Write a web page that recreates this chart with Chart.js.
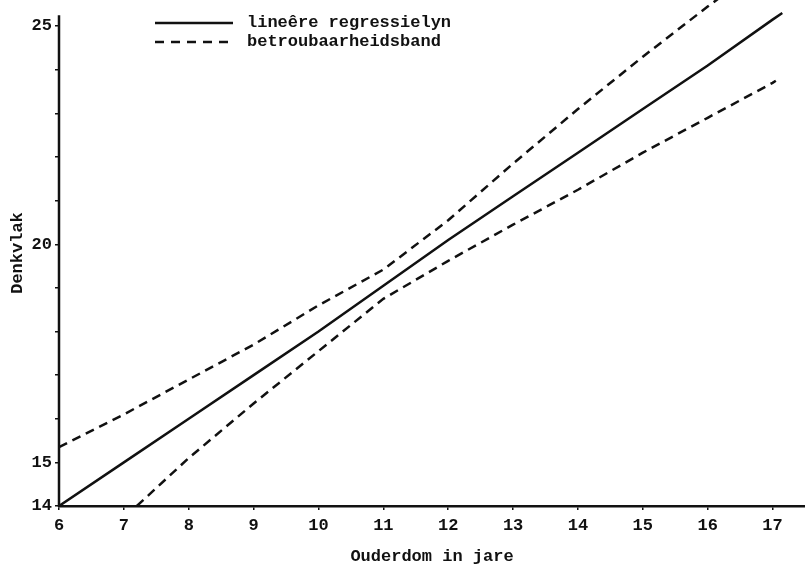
<!DOCTYPE html>
<html>
<head>
<meta charset="utf-8">
<script src="https://cdn.jsdelivr.net/npm/chart.js@4.4.1/dist/chart.umd.min.js"></script>
<style>
  body { margin: 0; background: #fff; }
  #wrap { width: 805px; height: 565px; }
</style>
</head>
<body>
<div id="wrap"><canvas id="chart"></canvas></div>
<script>
// values
const regX = [6, 7, 8, 9, 10, 11, 12, 13, 14, 15, 16, 17, 17.15];
const regY = [14, 15, 16, 17, 18, 19.05, 20.1, 21.1, 22.1, 23.1, 24.1, 25.15, 25.3];

const upperX = [6, 7, 8, 9, 10, 11, 12, 13, 14, 15, 16, 16.5];
const upperY = [15.35, 16.1, 16.9, 17.7, 18.6, 19.42, 20.55, 21.85, 23.1, 24.3, 25.45, 26.0];

const lowerX = [7.2, 8, 9, 10, 11, 12, 13, 14, 15, 16, 17, 17.05];
const lowerY = [14.0, 15.1, 16.35, 17.55, 18.75, 19.62, 20.45, 21.25, 22.1, 22.9, 23.7, 23.75];

const xTicks = [6, 7, 8, 9, 10, 11, 12, 13, 14, 15, 16, 17];
const yTicks = [14, 15, 16, 17, 18, 19, 20, 21, 22, 23, 24, 25];
const yLabelled = [14, 15, 20, 25];

const legendItems = ["lineêre regressielyn", "betroubaarheidsband"];

const ink = "#111";
const font = { family: "'Liberation Mono', 'DejaVu Sans Mono', monospace", size: 17, weight: "bold" };
const dash = [9, 6];

function pts(xs, ys) {
    return xs.map((x, i) => ({ x: x, y: ys[i] }));
}

// legend drawn by hand, plus the y axis line which stops a bit above 25
const typedPlugin = {
    id: "typed",
    afterDraw(chart) {
        const ctx = chart.ctx;
        const y = chart.scales.y;
        ctx.save();
        ctx.strokeStyle = ink;
        ctx.fillStyle = ink;
        ctx.lineWidth = 2.5;
        ctx.beginPath();
        ctx.moveTo(y.right, y.getPixelForValue(25.25));
        ctx.lineTo(y.right, y.bottom + 1);
        ctx.stroke();

        ctx.font = `${font.weight} ${font.size}px ${font.family}`;
        ctx.textBaseline = "middle";
        const rows = [23, 42];
        rows.forEach((ry, i) => {
            ctx.setLineDash(i === 0 ? [] : [9, 7]);
            ctx.beginPath();
            ctx.moveTo(155, ry);
            ctx.lineTo(233, ry);
            ctx.stroke();
            ctx.fillText(legendItems[i], 247, ry);
        });
        ctx.restore();
    }
};

const ctx = document.getElementById("chart").getContext("2d");
const chart = new Chart(ctx, {
    type: "scatter",
    data: {
        datasets: [
            {
                label: legendItems[0],
                data: pts(regX, regY),
                showLine: true,
                borderColor: ink,
                borderWidth: 2.5,
                pointRadius: 0,
            },
            {
                label: legendItems[1],
                data: pts(upperX, upperY),
                showLine: true,
                borderColor: ink,
                borderWidth: 2.5,
                borderDash: dash,
                pointRadius: 0,
            },
            {
                label: legendItems[1],
                data: pts(lowerX, lowerY),
                showLine: true,
                borderColor: ink,
                borderWidth: 2.5,
                borderDash: dash,
                pointRadius: 0,
            },
        ],
    },
    options: {
        responsive: true,
        maintainAspectRatio: false,
        animation: false,
        layout: { padding: 0 },
        plugins: {
            legend: { display: false },
            tooltip: { enabled: false },
        },
        scales: {
            x: {
                type: "linear",
                min: 6,
                max: 17.5,
                afterBuildTicks: (s) => { s.ticks = xTicks.map((v) => ({ value: v })); },
                afterFit: (s) => { s.height = 59; s.paddingLeft = 0; s.paddingRight = 0; },
                border: { display: true, color: ink, width: 2.5 },
                grid: { drawOnChartArea: false, drawTicks: true, tickLength: 4, color: ink, lineWidth: 1.5 },
                ticks: { color: ink, font: font, padding: 6, maxRotation: 0, autoSkip: false },
                title: { display: true, text: "Ouderdom in jare", color: ink, font: font, padding: { top: 0, bottom: -2 } },
            },
            y: {
                type: "linear",
                min: 14,
                max: 25.6,
                afterBuildTicks: (s) => { s.ticks = yTicks.map((v) => ({ value: v })); },
                afterFit: (s) => { s.width = 59; s.paddingTop = 0; s.paddingBottom = 0; },
                border: { display: false },
                grid: { drawOnChartArea: false, drawTicks: true, tickLength: 4, color: ink, lineWidth: 1.5 },
                ticks: {
                    color: ink,
                    font: font,
                    padding: 3,
                    autoSkip: false,
                    callback: (v) => (yLabelled.includes(v) ? String(v) : ""),
                },
                title: { display: true, text: "Denkvlak", color: ink, font: font, padding: { top: 8, bottom: 0 } },
            },
        },
    },
    plugins: [typedPlugin],
});
</script>
</body>
</html>
